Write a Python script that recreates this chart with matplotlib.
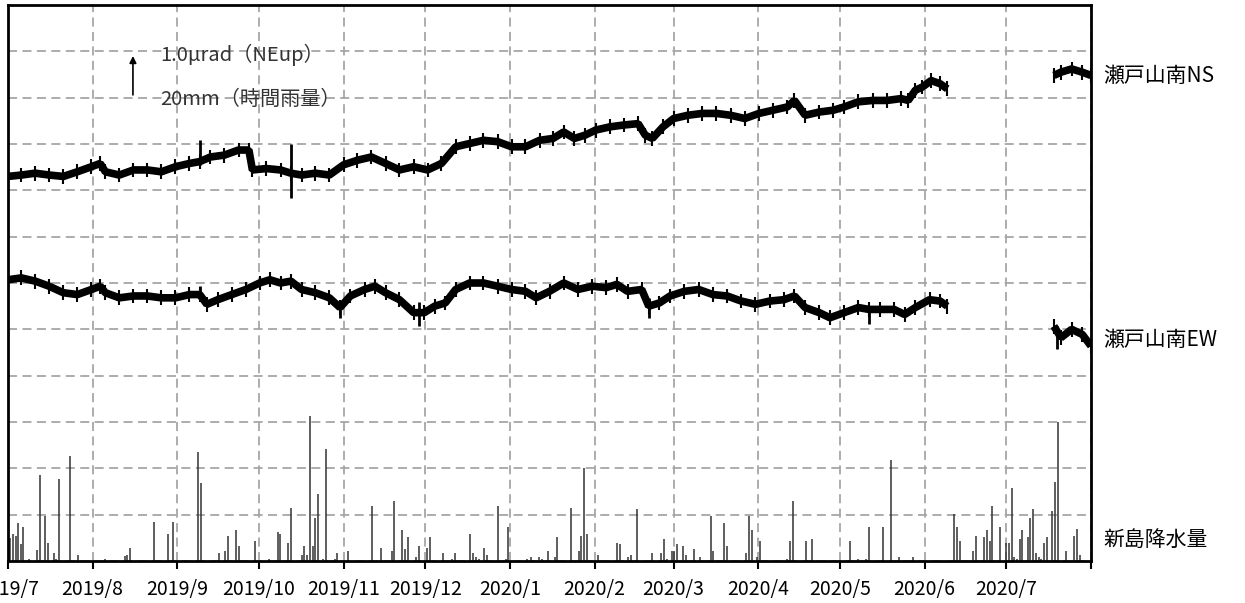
import numpy as np
import pandas as pd
import matplotlib
matplotlib.use("Agg")
import matplotlib.pyplot as plt
import matplotlib.dates as mdates
import matplotlib.transforms as mtransforms

plt.rcParams['font.family'] = ['Noto Sans CJK JP', 'DejaVu Sans']

# 期間
t0 = pd.Timestamp("2019-07-01")
t1 = pd.Timestamp("2020-08-01")

# 瀬戸山南NS（2019/7/1からの日数, 値は目盛単位 1目盛=1.0μrad）
ns_day = [0, 4.9, 10.0, 15.1, 20.3, 25.4, 30.6, 33.8, 35.7, 40.8, 46.0, 51.1, 56.2,
          61.4, 66.5, 70.3, 74.2, 79.3, 84.5, 88.3, 89.6, 94.7, 99.9, 103.7, 107.6,
          112.7, 117.8, 123.0, 128.1, 133.2, 138.4, 143.5, 148.7, 153.8, 158.9,
          164.1, 169.2, 174.3, 179.5, 184.6, 189.7, 194.9, 199.8, 203.7, 207.6,
          211.5, 215.4, 220.6, 225.8, 231.0, 233.6, 236.2, 240.1, 244.0, 249.2,
          254.5, 259.7, 264.9, 270.1, 275.3, 280.5, 285.7, 288.3, 292.2, 297.4,
          302.6, 306.5, 311.7, 317.0, 322.2, 327.4, 330.0, 332.6, 335.2, 338.4,
          341.7, 344.3,
          383.4, 386.0, 389.9, 393.8, 397.0]
ns_val = [8.30, 8.33, 8.37, 8.33, 8.30, 8.40, 8.51, 8.58, 8.40, 8.33, 8.44, 8.44, 8.40,
          8.51, 8.58, 8.62, 8.72, 8.76, 8.87, 8.87, 8.44, 8.47, 8.44, 8.37, 8.33,
          8.37, 8.33, 8.55, 8.65, 8.72, 8.58, 8.44, 8.51, 8.44, 8.58,
          8.94, 9.01, 9.08, 9.05, 8.94, 8.94, 9.08, 9.12, 9.26, 9.12,
          9.19, 9.30, 9.37, 9.41, 9.44, 9.19, 9.12, 9.37, 9.55, 9.62,
          9.66, 9.66, 9.62, 9.55, 9.66, 9.73, 9.80, 9.94, 9.62, 9.69,
          9.73, 9.80, 9.91, 9.94, 9.94, 9.98, 9.94, 10.16, 10.23, 10.37,
          10.30, 10.19,
          10.48, 10.55, 10.62, 10.55, 10.48]

# 瀬戸山南EW
ew_day = [0, 4.9, 10.0, 15.1, 20.3, 25.4, 30.6, 33.8, 35.7, 40.8, 46.0, 51.1, 56.2,
          61.4, 66.5, 70.3, 72.9, 76.9, 82.0, 87.2, 92.2, 96.0, 99.9, 103.7, 107.6,
          112.7, 117.8, 121.7, 125.5, 130.7, 134.5, 138.4, 143.5, 148.7, 152.6,
          156.4, 160.3, 164.1, 169.2, 174.3, 179.5, 184.6, 189.7, 193.6, 198.5,
          203.7, 208.9, 214.1, 219.3, 223.2, 227.1, 232.3, 234.9, 238.8, 242.7,
          247.9, 253.2, 258.4, 263.6, 268.8, 274.0, 279.2, 284.4, 288.3, 292.2,
          297.4, 301.3, 306.5, 311.7, 315.6, 319.6, 324.8, 328.7, 332.6, 337.8,
          341.7, 344.3,
          383.4, 386.0, 389.9, 393.8, 397.0]
ew_val = [6.07, 6.11, 6.04, 5.93, 5.79, 5.75, 5.86, 5.93, 5.79, 5.68, 5.72, 5.72, 5.68,
          5.68, 5.75, 5.75, 5.54, 5.64, 5.75, 5.86, 6.00, 6.07, 6.00, 6.04, 5.86,
          5.79, 5.68, 5.47, 5.72, 5.86, 5.93, 5.79, 5.64, 5.36, 5.36,
          5.50, 5.57, 5.86, 6.00, 6.00, 5.93, 5.86, 5.82, 5.68, 5.82,
          6.00, 5.86, 5.93, 5.90, 5.97, 5.82, 5.86, 5.50, 5.57, 5.72,
          5.82, 5.86, 5.75, 5.72, 5.61, 5.54, 5.61, 5.64, 5.72, 5.47,
          5.36, 5.25, 5.36, 5.47, 5.43, 5.43, 5.43, 5.32, 5.47, 5.64,
          5.61, 5.50,
          5.07, 4.82, 5.00, 4.89, 4.64]

# 目立つスパイク（日数, 下端, 上端）
ns_spike_day = [70.3, 103.7]
ns_spike_lo = [8.55, 7.83]
ns_spike_hi = [9.08, 9.00]
ew_spike_day = [70.3, 121.7, 150.5, 234.9, 315.6, 384.5]
ew_spike_lo = [5.70, 5.25, 5.07, 5.25, 5.11, 4.57]
ew_spike_hi = [5.93, 5.60, 5.60, 5.68, 5.50, 5.07]

# 新島降水量（日数, mm）
rain_day = [0.77, 1.8, 2.8, 3.6, 4.6, 5.6, 7.7, 10.8, 11.7, 13.6, 14.6, 16.7, 17.7, 18.6,
            22.6, 25.7, 35.7, 43.0, 43.6, 44.7, 53.7, 58.8, 60.6, 69.7, 70.6, 77.5,
            79.6, 80.6, 83.7, 84.6, 90.6, 95.5, 98.8, 99.6, 102.7, 103.6, 107.6, 108.6,
            109.6, 110.7, 111.7, 112.7, 113.7, 115.5, 116.6, 119.8, 120.7, 124.5,
            133.5, 136.6, 140.7, 141.5, 144.5, 145.6, 146.5, 149.4, 150.6, 153.5,
            154.6, 159.6, 162.8, 163.7, 169.4, 170.5, 171.5, 172.5, 174.6, 175.6,
            179.5, 182.7, 183.3, 190.4, 191.7, 194.6, 195.9, 198.1,
            200.4, 201.3, 206.3, 209.3, 210.2, 211.2, 212.1, 216.4, 223.2, 224.5,
            227.4, 228.4, 230.4, 236.2, 239.5, 240.4, 241.4, 243.5, 244.3, 245.3,
            247.4, 248.5, 251.5, 253.5, 257.6, 258.5, 262.4, 263.6, 270.5, 271.5,
            272.6, 274.5, 275.5, 285.7, 286.5, 287.7, 292.5, 294.6, 308.6, 311.7,
            314.6, 315.6, 320.6, 323.7, 326.7, 331.7, 346.8, 347.7, 348.8, 353.7,
            354.7, 357.8, 358.8, 359.9, 360.8, 363.8, 365.9, 366.8, 367.9, 368.8,
            369.8, 370.9, 371.8, 373.9, 374.8, 375.8, 376.9, 377.9, 378.8, 379.8,
            380.8, 382.8, 383.9, 384.9, 387.9, 390.9, 391.9, 393.0]
rain_mm = [10, 11.5, 10.8, 16.2, 7.2, 14.6, 1, 4.7, 37.3, 19.4, 7.9, 3.3, 1, 35.2,
           45.5, 2.6, 1, 2.2, 2.7, 5.6, 16.8, 11.6, 16.8, 47, 33.5, 3.3,
           4.2, 10.8, 13.2, 6.5, 8.6, 1, 12.5, 11.6, 7.9, 23, 2.7, 6.5,
           2.7, 62.7, 6.5, 18.4, 29, 1, 48.5, 1, 3.3, 4.2,
           23.7, 5.6, 4.2, 26, 13.2, 5, 10.2, 1.9, 6.5, 5.6,
           10.2, 3.3, 1, 3.3, 11.6, 3.3, 1.9, 1, 5.6, 2.7,
           23.7, 1, 14.6, 1, 1.9, 1.9, 1, 4.2,
           1.9, 10.2, 23, 4.2, 10.9, 40.2, 11.6, 2.7, 7.9, 7.2,
           1.9, 2.7, 22.3, 3.3, 3.3, 9.3, 1, 4.2, 4.2, 7.2,
           6.5, 2.7, 5, 1.9, 19.4, 4.2, 16.2, 6.5, 3.3, 19.4,
           13.2, 1.9, 8.6, 1, 8.6, 26, 8.6, 9.3, 8.6, 1,
           1, 14.6, 14.6, 43.4, 1.9, 1.9, 20.1, 14.6, 8.6, 4.2,
           10.9, 10.2, 13.2, 8.6, 23.7, 14.6, 7.9, 7.9, 31.3, 1.9,
           1, 9.3, 13.2, 10.2, 18.4, 22.3, 3.3, 1.9, 1, 7.9,
           10.2, 21.5, 34.3, 60, 4.2, 10.9, 13.9, 2.7]

mm_per_grid = 20  # 1目盛 = 20mm

base = mdates.date2num(t0)


def to_x(days):
    return base + np.asarray(days, dtype=float)


def split_gap(days, vals):
    d = np.asarray(days, dtype=float)
    v = np.asarray(vals, dtype=float)
    cut = np.where(np.diff(d) > 20)[0] + 1
    return zip(np.split(d, cut), np.split(v, cut))


fig = plt.figure(figsize=(12.45, 6.03), dpi=100)
ax = fig.add_axes([8 / 1245, 42 / 603, 1083 / 1245, 556 / 603])

# 傾斜計
for days, vals in list(split_gap(ns_day, ns_val)) + list(split_gap(ew_day, ew_val)):
    ax.plot(to_x(days), vals, color='k', lw=5.5, solid_joinstyle='bevel',
            solid_capstyle='butt', zorder=3)
    ax.vlines(to_x(days), vals - 0.16, vals + 0.16, color='k', lw=1.5, zorder=3)
ax.vlines(to_x(ns_spike_day), ns_spike_lo, ns_spike_hi, color='k', lw=2, zorder=3)
ax.vlines(to_x(ew_spike_day), ew_spike_lo, ew_spike_hi, color='k', lw=2, zorder=3)

# 雨量
ax.vlines(to_x(rain_day), 0, np.array(rain_mm) / mm_per_grid, color='#333333',
          lw=1.1, zorder=2)

ax.set_xlim(mdates.date2num(t0), mdates.date2num(t1))
ax.set_ylim(0, 12)

months = pd.date_range(t0, t1, freq='MS')
ax.set_xticks(mdates.date2num(months))
ax.set_xticklabels([f"{m.year}/{m.month}" if m < t1 else "" for m in months], fontsize=14)
ax.set_yticks(range(0, 13))
ax.set_yticklabels([])
ax.tick_params(axis='y', length=0)
ax.tick_params(axis='x', direction='out', length=6, width=1.5, pad=7, color='k')

ax.grid(True, color='#a6a6a6', linestyle=(0, (5, 3)), lw=1.3, zorder=0)
for s in ax.spines.values():
    s.set_linewidth(2)
    s.set_color('k')

# スケール
ax.annotate('', xy=(to_x(45.8), 10.96), xytext=(to_x(45.8), 10.0),
            arrowprops=dict(arrowstyle='-|>', color='k', lw=1.2, mutation_scale=10))
ax.text(to_x(55.7), 10.92, "1.0μrad（NEup）", fontsize=14.5, color='#333333', va='center')
ax.text(to_x(55.7), 9.97, "20mm（時間雨量）", fontsize=14.5, color='#333333', va='center')

# 右側ラベル
trans = mtransforms.blended_transform_factory(ax.transAxes, ax.transData)
ax.text(1.011, 10.47, "瀬戸山南NS", transform=trans, fontsize=15, va='center')
ax.text(1.011, 4.77, "瀬戸山南EW", transform=trans, fontsize=15, va='center')
ax.text(1.011, 0.45, "新島降水量", transform=trans, fontsize=15, va='center')

fig.savefig("out.png", dpi=100)
